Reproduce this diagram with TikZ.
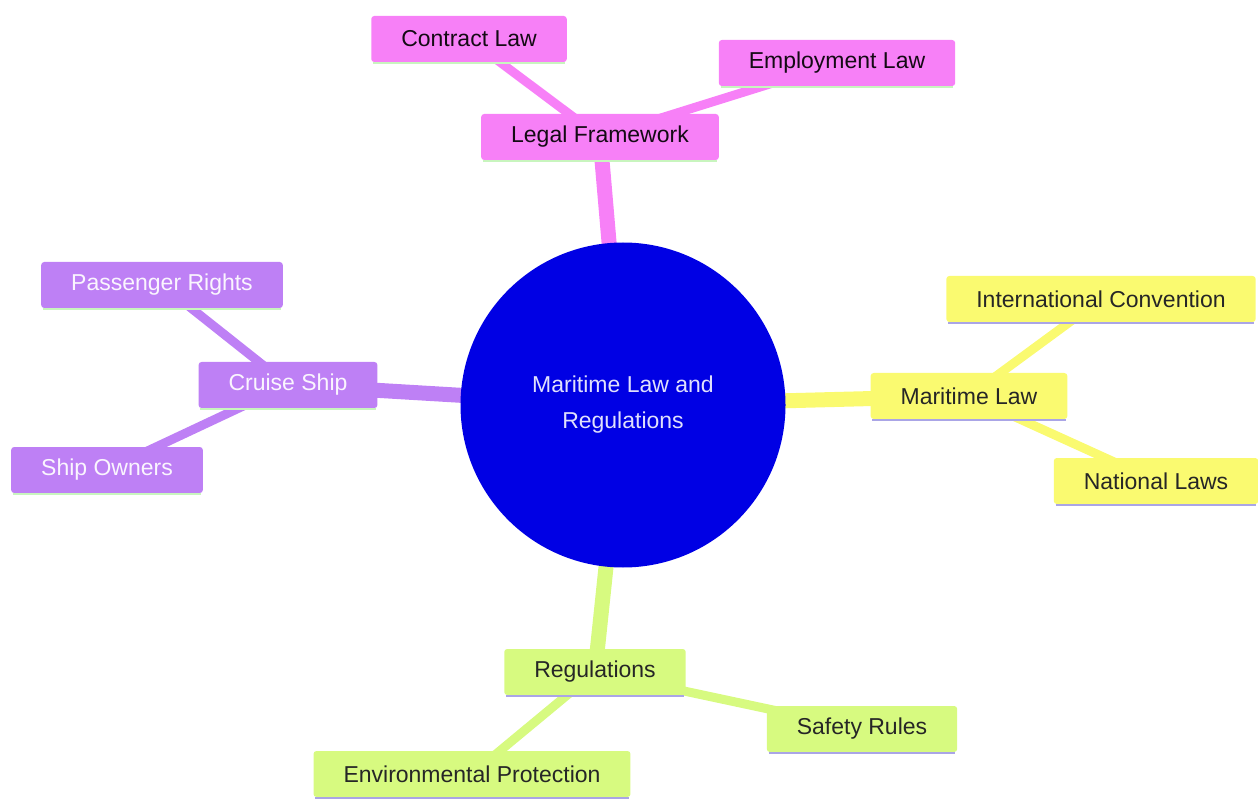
\documentclass[tikz,border=0pt]{standalone}
\usepackage{fontspec}
\setmainfont{Liberation Sans}
\usetikzlibrary{backgrounds}

\definecolor{pinkfill}{RGB}{247,128,247}
\definecolor{yellowfill}{RGB}{250,250,112}
\definecolor{purplefill}{RGB}{190,128,245}
\definecolor{greenfill}{RGB}{215,250,128}
\definecolor{hubblue}{RGB}{0,0,228}
\definecolor{mintline}{RGB}{200,245,190}
\definecolor{lilacline}{RGB}{170,165,230}

\begin{document}
\begin{tikzpicture}[x=1pt,y=-1pt,
    font=\fontsize{23}{28}\selectfont,
    box/.style={fill=#1, rounded corners=3pt, minimum height=46pt, inner xsep=30pt, inner ysep=0pt},
    underline/.style={append after command={([xshift=2pt,yshift=-1pt]\tikzlastnode.south west) edge[draw=#1, line width=2.5pt] ([xshift=-2pt,yshift=-1pt]\tikzlastnode.south east)}},
    legal/.style={box=pinkfill, text=black!80!pinkfill!40!black, underline=mintline},
    sealaw/.style={box=yellowfill, text=black!85, underline=lilacline},
    cruise/.style={box=purplefill, text=white!92!purplefill, underline=mintline},
    rules/.style={box=greenfill, text=black!85, underline=lilacline},
    hub/.style={circle, fill=hubblue, minimum size=325pt, text=white!88!hubblue, align=center},
    trunk/.style={line width=15pt, draw=#1},
    twig/.style={line width=9pt, draw=#1},
    ]
    \useasboundingbox (0,0) rectangle (1258,799);

    % Place nodes
    \node [hub] (root) at (623,405) {Maritime Law and\\[8pt]Regulations};

    \node [legal] (frame) at (600,137) {Legal Framework};
    \node [legal] (contract) at (469,39) {Contract Law};
    \node [legal] (employ) at (837,63) {Employment Law};

    \node [sealaw] (mlaw) at (969,396) {Maritime Law};
    \node [sealaw] (intl) at (1101,299) {International Convention};
    \node [sealaw] (national) at (1156,481) {National Laws};

    \node [cruise] (ship) at (288,385) {Cruise Ship};
    \node [cruise] (passenger) at (162,285) {Passenger Rights};
    \node [cruise] (owners) at (107,470) {Ship Owners};

    \node [rules] (regs) at (595,672) {Regulations};
    \node [rules] (safety) at (862,729) {Safety Rules};
    \node [rules] (enviro) at (472,774) {Environmental Protection};

    % Draw edges
    \begin{scope}[on background layer]
      \draw [trunk=pinkfill] (root.center) -- (frame.center);
      \draw [trunk=yellowfill] (root.center) -- (mlaw.center);
      \draw [trunk=purplefill] (root.center) -- (ship.center);
      \draw [trunk=greenfill] (root.center) -- (regs.center);

      \draw [twig=pinkfill] (frame.center) -- (contract.center);
      \draw [twig=pinkfill] (frame.center) -- (employ.center);
      \draw [twig=yellowfill] (mlaw.center) -- (intl.center);
      \draw [twig=yellowfill] (mlaw.center) -- (national.center);
      \draw [twig=purplefill] (ship.center) -- (passenger.center);
      \draw [twig=purplefill] (ship.center) -- (owners.center);
      \draw [twig=greenfill] (regs.center) -- (safety.center);
      \draw [twig=greenfill] (regs.center) -- (enviro.center);
    \end{scope}
  \end{tikzpicture}
\end{document}
